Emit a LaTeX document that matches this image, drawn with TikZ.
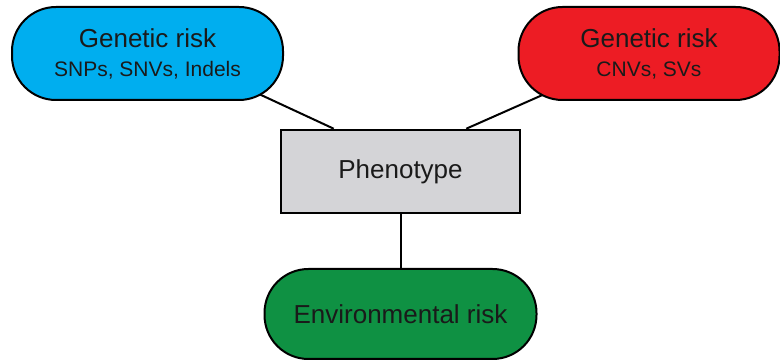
\documentclass[tikz,border=0pt]{standalone}
\usepackage{fontspec}
\setmainfont{Liberation Sans}
\usetikzlibrary{calc,backgrounds}
\definecolor{gblue}{HTML}{00AEEF}
\definecolor{gred}{HTML}{ED1C24}
\definecolor{ggreen}{HTML}{0F9143}
\definecolor{ggray}{HTML}{D4D4D7}
\definecolor{txt}{HTML}{1A1A1A}
\tikzset{
  pill/.style={draw=black, line width=2pt, rounded corners=44pt, minimum height=93pt, inner sep=0pt, align=center, text=txt},
  phenbox/.style={draw=black, line width=2.6pt, fill=ggray, minimum width=239pt, minimum height=83pt, inner sep=0pt, text=txt},
  conn/.style={draw=black, line width=2pt},
  big/.style={font=\fontsize{26}{31}\selectfont},
}
\newcommand{\subt}[1]{\fontsize{21}{25}\selectfont #1}
\begin{document}
\begin{tikzpicture}[x=1pt,y=-1pt]
\useasboundingbox (0,0) rectangle (780,363);
\node[pill, fill=gblue, minimum width=271pt, big] (blue) at (147.5,53.5) {Genetic risk\\[-2pt]\subt{SNPs, SNVs, Indels}};
\node[pill, fill=gred, minimum width=261pt, big] (red) at (649,53.5) {Genetic risk\\[-2pt]\subt{CNVs, SVs}};
\node[phenbox, big] (phen) at (400.5,171.5) {Phenotype};
\node[pill, fill=ggreen, minimum width=272pt, minimum height=90pt, big] (env) at (400.5,314) {Environmental risk};
\begin{pgfonlayer}{background}
\draw[conn] ($(phen.north west)+(54,0)$) -- ($(blue.south east)+(-63,-24.6)$);
\draw[conn] ($(phen.north east)+(-55,0)$) -- ($(red.south west)+(67,-24.6)$);
\draw[conn] (phen.south) -- (env.north);
\end{pgfonlayer}
\end{tikzpicture}
\end{document}
